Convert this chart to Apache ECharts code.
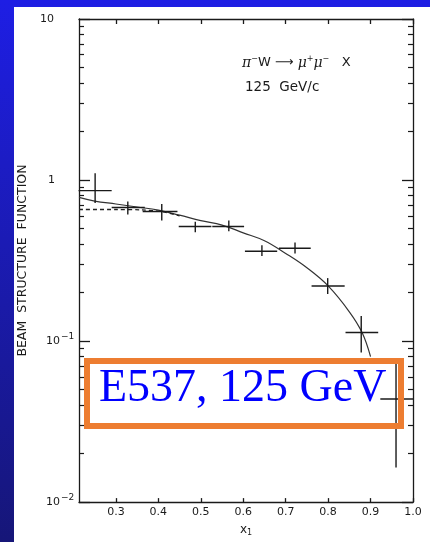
<!DOCTYPE html>
<html><head><meta charset="utf-8">
<script src="https://cdn.jsdelivr.net/npm/echarts@6/dist/echarts.min.js"></script>
<style>
html,body{margin:0;padding:0;width:430px;height:542px;overflow:hidden}
#bg{position:absolute;left:0;top:0;width:430px;height:542px;background:linear-gradient(180deg,#1e1ee4 0%,#1b1bb4 45%,#161678 100%)}
#panel{position:absolute;left:14px;top:7px;width:416px;height:535px;background:#fff}
#chart{position:absolute;left:0;top:0;width:430px;height:542px}
</style></head><body>
<div id="bg"></div><div id="panel"></div><div id="chart"></div>
<script>
// ---- data ----
const xTickValues = [0.3, 0.4, 0.5, 0.6, 0.7, 0.8, 0.9, 1.0];
const xTickLabels = ['0.3', '0.4', '0.5', '0.6', '0.7', '0.8', '0.9', '1.0'];
const yTickValues = [0.01, 0.1, 1, 10];
const yTickBase = ['10', '10', '1', '10'];
const yTickExp = ['−2', '−1', '', ''];
const yMinorValues = [0.02,0.03,0.04,0.05,0.06,0.07,0.08,0.09,
                      0.2,0.3,0.4,0.5,0.6,0.7,0.8,0.9,
                      2,3,4,5,6,7,8,9];

const pointX = [0.251, 0.328, 0.408, 0.487, 0.566, 0.644, 0.722, 0.799, 0.878, 0.960];
const pointY = [0.86, 0.675, 0.638, 0.515, 0.515, 0.361, 0.377, 0.220, 0.113, 0.0437];
const xLow   = [0.212, 0.290, 0.363, 0.448, 0.527, 0.604, 0.684, 0.761, 0.841, 0.923];
const xHigh  = [0.290, 0.368, 0.445, 0.525, 0.602, 0.680, 0.759, 0.839, 0.918, 1.000];
const yLow   = [0.72, 0.61, 0.56, 0.474, 0.48, 0.337, 0.35, 0.196, 0.085, 0.0164];
const yHigh  = [1.10, 0.735, 0.71, 0.55, 0.56, 0.394, 0.41, 0.246, 0.143, 0.075];

const curveX = [0.213, 0.25, 0.30, 0.35, 0.40, 0.45, 0.50, 0.55, 0.60, 0.65, 0.70, 0.75, 0.80, 0.85, 0.88, 0.90];
const curveY = [0.78, 0.74, 0.71, 0.68, 0.65, 0.605, 0.56, 0.525, 0.47, 0.42, 0.35, 0.285, 0.22, 0.152, 0.113, 0.08];
const dashX = [0.213, 0.30, 0.36, 0.41, 0.45];
const dashY = [0.656, 0.656, 0.652, 0.635, 0.60];

// ---- chart ----
const chart = echarts.init(document.getElementById('chart'), null, {renderer: 'canvas'});
const ink = '#1a1a1a';
const fontSans = '"DejaVu Sans", "Liberation Sans", sans-serif';

const errData = pointX.map((x, i) => [x, pointY[i], xLow[i], xHigh[i], yLow[i], yHigh[i]]);

function yLabel(v) {
  for (let i = 0; i < yTickValues.length; i++) {
    if (Math.abs(Math.log10(v) - Math.log10(yTickValues[i])) < 1e-6) {
      if (yTickExp[i]) return '{p|' + yTickBase[i] + '}{s|' + yTickExp[i] + '}';
      if (yTickBase[i] === '1') return '{one|1}';
      return '{b|' + yTickBase[i] + '}';
    }
  }
  return '';
}

const xMin = 0.213, xMax = 1.0;
const commonX = {
  type: 'value', min: xMin, max: xMax,
  splitLine: {show: false},
  axisLine: {show: true, onZero: false, lineStyle: {color: ink, width: 1.3}},
};
const option = {
  animation: false,
  backgroundColor: 'transparent',
  grid: {left: 79, right: 17, top: 19, bottom: 36},
  title: [
    {left: 242, top: 55, padding: 0,
     text: '{g|π}{s|−}{n|W}{n| ⟶ }{g|μ}{s|+}{g|μ}{s|−}{n|   X}',
     textStyle: {fontWeight: 'normal', rich: {
       g: {fontFamily: '"DejaVu Serif", serif', fontStyle: 'italic', fontWeight: 'normal', fontSize: 14, color: ink, lineHeight: 16},
       n: {fontFamily: fontSans, fontSize: 13, fontWeight: 'normal', color: ink, lineHeight: 16},
       s: {fontFamily: fontSans, fontSize: 8, fontWeight: 'normal', color: ink, verticalAlign: 'top', lineHeight: 16, padding: [0, 0, 6, 0]}
     }}},
    {left: 245, top: 80, padding: 0, text: '125  GeV/c',
     textStyle: {fontFamily: fontSans, fontSize: 13.5, fontWeight: 'normal', color: ink}}
  ],
  xAxis: [
    Object.assign({}, commonX, {
      position: 'bottom',
      name: '{v|x}{sub|1}', nameLocation: 'middle', nameGap: 15,
      nameTextStyle: {rich: {
        v: {fontFamily: fontSans, fontSize: 12, color: ink, lineHeight: 14},
        sub: {fontFamily: fontSans, fontSize: 8, color: ink, lineHeight: 14, verticalAlign: 'bottom', padding: [6, 0, 0, 0]}
      }},
      axisTick: {show: true, inside: true, length: 4, customValues: xTickValues, lineStyle: {color: ink, width: 1.3}},
      axisLabel: {show: true, margin: 5, customValues: xTickValues,
        formatter: v => { const i = xTickValues.findIndex(t => Math.abs(t - v) < 1e-6); return i >= 0 ? xTickLabels[i] : ''; },
        fontFamily: fontSans, fontSize: 11, color: ink}
    }),
    Object.assign({}, commonX, {
      position: 'top',
      axisTick: {show: true, inside: true, length: 5, customValues: xTickValues, lineStyle: {color: ink, width: 1.3}},
      axisLabel: {show: false}
    })
  ],
  yAxis: [
    {type: 'log', logBase: 10, min: 0.01, max: 10, position: 'left',
     splitLine: {show: false},
     axisLine: {show: true, onZero: false, lineStyle: {color: ink, width: 1.3}},
     axisTick: {show: true, inside: true, length: 11, lineStyle: {color: ink, width: 1.3}},
     axisLabel: {show: true, align: 'left', margin: 39, formatter: yLabel,
       rich: {
         b: {fontFamily: fontSans, fontSize: 11, color: ink},
         one: {fontFamily: fontSans, fontSize: 11, color: ink, padding: [0, 0, 0, 8]},
         p: {fontFamily: fontSans, fontSize: 11, color: ink, padding: [0, 0, 0, 6]},
         s: {fontFamily: fontSans, fontSize: 9, color: ink, verticalAlign: 'top', padding: [0, 0, 8, 1]}
       }},
     name: 'BEAM  STRUCTURE  FUNCTION', nameLocation: 'middle', nameGap: 36, nameRotate: 90,
     nameTextStyle: {fontFamily: fontSans, fontSize: 12.5, color: ink}},
    {type: 'value', min: Math.log10(0.01), max: Math.log10(10), position: 'left',
     splitLine: {show: false}, axisLine: {show: false, onZero: false},
     axisTick: {show: true, inside: true, length: 5, customValues: yMinorValues.map(v => Math.log10(v)), lineStyle: {color: ink, width: 1.2}},
     axisLabel: {show: false}},
    {type: 'log', logBase: 10, min: 0.01, max: 10, position: 'right',
     splitLine: {show: false},
     axisLine: {show: true, onZero: false, lineStyle: {color: ink, width: 1.3}},
     axisTick: {show: true, inside: true, length: 11, lineStyle: {color: ink, width: 1.3}},
     axisLabel: {show: false}},
    {type: 'value', min: Math.log10(0.01), max: Math.log10(10), position: 'right',
     splitLine: {show: false}, axisLine: {show: false, onZero: false},
     axisTick: {show: true, inside: true, length: 5, customValues: yMinorValues.map(v => Math.log10(v)), lineStyle: {color: ink, width: 1.2}},
     axisLabel: {show: false}}
  ],
  series: [
    {type: 'line', xAxisIndex: 0, yAxisIndex: 0, smooth: 0.4, showSymbol: false,
     data: curveX.map((x, i) => [x, curveY[i]]),
     lineStyle: {color: '#333', width: 1.2}, z: 3},
    {type: 'line', xAxisIndex: 0, yAxisIndex: 0, smooth: 0.3, showSymbol: false,
     data: dashX.map((x, i) => [x, dashY[i]]),
     lineStyle: {color: '#222', width: 1.3, type: [4, 3]}, z: 3},
    {type: 'custom', xAxisIndex: 0, yAxisIndex: 0, clip: false,
     data: errData,
     renderItem: function (params, api) {
       const x = api.value(0), y = api.value(1);
       const a = api.coord([api.value(2), y]);
       const b = api.coord([api.value(3), y]);
       const c = api.coord([x, api.value(4)]);
       const d = api.coord([x, api.value(5)]);
       const st = {stroke: '#1a1a1a', lineWidth: 1.4};
       return {type: 'group', children: [
         {type: 'line', shape: {x1: a[0], y1: a[1], x2: b[0], y2: b[1]}, style: st},
         {type: 'line', shape: {x1: c[0], y1: c[1], x2: d[0], y2: d[1]}, style: st}
       ]};
     }, z: 4}
  ],
  graphic: [
    {type: 'rect', z: 100, silent: true,
     shape: {x: 87, y: 361, width: 314, height: 65},
     style: {fill: 'rgba(255,255,255,0)', stroke: '#ED7D31', lineWidth: 6}},
    {type: 'text', z: 101, silent: true, x: 99, y: 389,
     style: {text: 'E537, 125 GeV', fill: '#0000ff', font: '46px "Liberation Serif", "Times New Roman", serif', textVerticalAlign: 'middle', verticalAlign: 'middle'}}
  ]
};
chart.setOption(option);
</script>
</body></html>
